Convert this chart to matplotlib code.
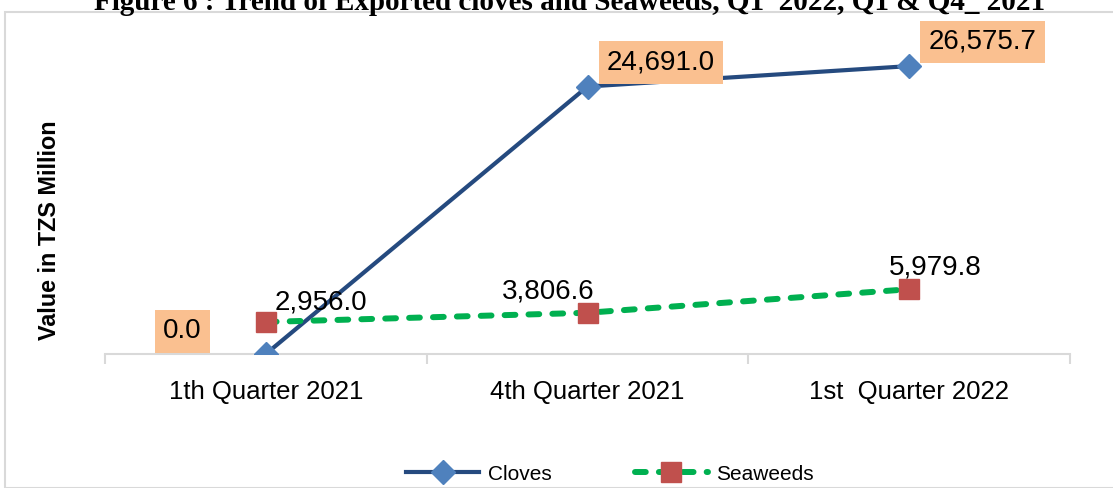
import matplotlib.pyplot as plt
from matplotlib.patches import Rectangle

# data
quarters = ['1th Quarter 2021', '4th Quarter 2021', '1st  Quarter 2022']
cloves = [0.0, 24691.0, 26575.7]
seaweeds = [2956.0, 3806.6, 5979.8]

plt.rcParams['font.family'] = ['Liberation Sans', 'DejaVu Sans']

fig = plt.figure(figsize=(11.13, 4.88), dpi=100)
W, H = 1113, 488

# outer chart border
fig.patches.append(Rectangle((5 / W, 0), 1.2, 1 - 12 / H, transform=fig.transFigure,
                             fill=False, edgecolor='#d9d9d9', linewidth=1.5))

# title (cut off at the top in the source)
fig.text(0.512, 1 - 10 / H, 'Figure 6 : Trend of Exported cloves and Seaweeds, Q1  2022, Q1 & Q4_ 2021',
         ha='center', va='baseline', family='Liberation Serif', fontweight='bold', fontsize=21)

ax = fig.add_axes([105 / W, 1 - 354 / H, (1070 - 105) / W, (354 - 29) / H])
x = [0, 1, 2]
ax.plot(x, cloves, color='#254a7f', linewidth=3, marker='D', markersize=12,
        markerfacecolor='#4f81bd', markeredgecolor='#4f81bd', label='Cloves', zorder=3)
ax.plot(x, seaweeds, color='#00b050', linewidth=4.3, linestyle=(0, (1.8, 2.2)),
        dash_capstyle='round', marker='s',
        markersize=14, markerfacecolor='#c0504d', markeredgecolor='#c0504d',
        label='Seaweeds', zorder=3)

ax.set_xlim(-0.5, 2.5)
ax.set_ylim(0, 30000)
for s in ['top', 'right', 'left']:
    ax.spines[s].set_visible(False)
ax.spines['bottom'].set_color('#d9d9d9')
ax.spines['bottom'].set_linewidth(1.5)
ax.set_yticks([])
ax.set_xticks(x)
ax.set_xticklabels(quarters, fontsize=18.5)
ax.tick_params(axis='x', length=0, pad=19)
ax.set_xticks([-0.5, 0.5, 1.5, 2.5], minor=True)
ax.tick_params(axis='x', which='minor', length=7, color='#d9d9d9', width=1.5)

ax.set_ylabel('Value in TZS Million', fontweight='bold', fontsize=16.8, va='center')
ax.yaxis.set_label_coords(-0.058, 0.38)

box = dict(boxstyle='square,pad=0.3', facecolor='#fac090', edgecolor='none')
# cloves labels
ax.annotate(f'{cloves[0]:,.1f}', (x[0], cloves[0]), xytext=(-74, 7), textcoords='offset points',
            fontsize=20, bbox=box, ha='left', va='bottom')
for i in [1, 2]:
    ax.annotate(f'{cloves[i]:,.1f}', (x[i], cloves[i]), xytext=(14, 8), textcoords='offset points',
                fontsize=20, bbox=box, ha='left', va='bottom')
# seaweeds labels
ax.annotate(f'{seaweeds[0]:,.1f}', (x[0], seaweeds[0]), xytext=(6, 5), textcoords='offset points',
            fontsize=20, ha='left', va='bottom')
ax.annotate(f'{seaweeds[1]:,.1f}', (x[1], seaweeds[1]), xytext=(-28, 6), textcoords='offset points',
            fontsize=20, ha='center', va='bottom')
ax.annotate(f'{seaweeds[2]:,.1f}', (x[2], seaweeds[2]), xytext=(19, 6), textcoords='offset points',
            fontsize=20, ha='center', va='bottom')

fig.legend(loc='center', bbox_to_anchor=(610 / W, 1 - 474 / H), ncol=2, frameon=False,
           fontsize=15, handlelength=3.5, columnspacing=4, handletextpad=0.4)

fig.savefig('out.png', dpi=100)
